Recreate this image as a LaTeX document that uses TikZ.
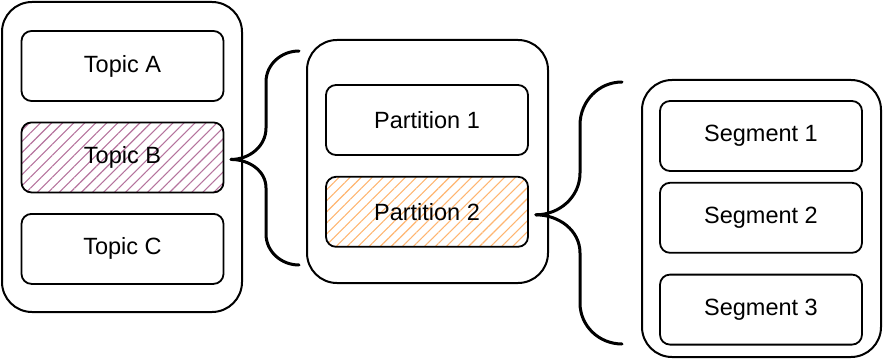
\documentclass[tikz,border=0pt]{standalone}
\usepackage{fontspec}
\setmainfont{Liberation Sans}
\usepackage{xcolor}
\usetikzlibrary{positioning,calc,patterns.meta}

\definecolor{hatchpurple}{HTML}{B5739D}
\definecolor{hatchorange}{HTML}{FFB570}

\begin{document}
\begin{tikzpicture}[x=1pt, y=1pt,
	% outer container
	outer/.style={
		draw=black, line width=2pt, rounded corners=30pt,
		inner sep=0pt
	},
	% inner block
	block/.style={
		draw=black, line width=1.8pt, rounded corners=10pt,
		minimum width=202pt, minimum height=70pt, inner sep=0pt,
		font=\fontsize{23.5}{26}\selectfont
	},
	% hatched block
	hatched/.style={
		block,
		pattern={Lines[angle=45, distance=7.8pt, line width=1.1pt]},
		pattern color=#1
	},
	% curly brace
	brace/.style={
		draw=black, line width=3pt, line cap=round
	}
	]

	\useasboundingbox (0,0) rectangle (883,362);

	% --- topics ---
	\node[outer, minimum width=240pt, minimum height=310pt] (topics) at (122,205) {};
	\node[block] (topA) at (122.5,296) {Topic A};
	\node[hatched=hatchpurple, below=20pt of topA] (topB) {Topic B};
	\node[block, below=20pt of topB] (topC) {Topic C};

	% --- partitions ---
	\node[outer, minimum width=241pt, minimum height=243pt] (parts) at (427.5,200.5) {};
	\node[block] (partA) at (427,242) {Partition 1};
	\node[hatched=hatchorange, below=20pt of partA] (partB) {Partition 2};

	% --- segments ---
	\node[outer, minimum width=239pt, minimum height=277pt] (segs) at (761.5,143.5) {};
	\node[block] (segA) at (761,226) {Segment 1};
	\node[block, below=10pt of segA] (segB) {Segment 2};
	\node[block, below=20pt of segB] (segC) {Segment 3};

	% brace ends next to the containers
	\coordinate (b1top) at ($(parts.north west)+(-7,-12)$);
	\coordinate (b1bot) at ($(parts.south west)+(-7,19)$);
	\coordinate (b2top) at ($(segs.north west)+(-19,-3)$);
	\coordinate (b2bot) at ($(segs.south west)+(-19,14)$);

	% topic B -> partitions
	\draw[brace] ($(topB.east)+(7,-2)$) to[out=0, in=-90] (266,234)
		-- (266,280) to[out=90, in=180] (b1top);
	\draw[brace] ($(topB.east)+(7,-2)$) to[out=0, in=90] (266,174)
		-- (266,128) to[out=-90, in=180] (b1bot);

	% partition 2 -> segments
	\draw[brace] ($(partB.east)+(7,-3)$) to[out=0, in=-90] (580,189)
		-- (580,237) to[out=90, in=180] (b2top);
	\draw[brace] ($(partB.east)+(7,-3)$) to[out=0, in=90] (580,109)
		-- (580,59) to[out=-90, in=180] (b2bot);

\end{tikzpicture}
\end{document}
